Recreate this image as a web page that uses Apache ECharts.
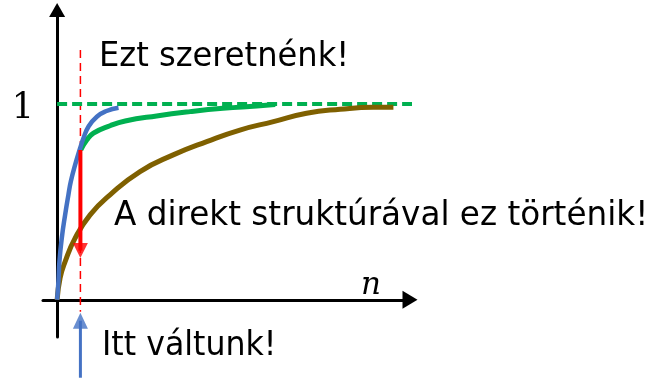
<!DOCTYPE html>
<html>
<head>
<meta charset="utf-8">
<script src="https://cdn.jsdelivr.net/npm/echarts@6/dist/echarts.min.js"></script>
<style>
  html, body { margin: 0; padding: 0; background: #fff; }
  #chart { width: 654px; height: 382px; }
</style>
</head>
<body>
<div id="chart"></div>
<script>
// Convergence of three strategies as n grows; value normalised to 1.
const yTickLabels = [1];

// fast start (blue)
const blueN = [0, 0.037, 0.065, 0.133, 0.227, 0.32, 0.388, 0.51, 0.652, 0.745, 0.887, 1.125, 1.40, 1.74];
const blueY = [0, 0.093, 0.195, 0.316, 0.434, 0.536, 0.604, 0.689, 0.774, 0.825, 0.884, 0.935, 0.964, 0.981];

// desired continuation after the switch (green)
const greenN = [0.67, 0.84, 1.03, 1.50, 1.93, 2.82, 3.77, 4.70, 5.66, 6.18];
const greenY = [0.765, 0.816, 0.851, 0.889, 0.913, 0.939, 0.961, 0.978, 0.990, 0.997];

// direct structure (brown)
const brownN = [0, 0.085, 0.227, 0.51, 0.935, 1.50, 2.35, 3.29, 4.24, 5.18, 6.13, 7.07, 8.02, 8.96, 9.53];
const brownY = [0, 0.112, 0.195, 0.315, 0.434, 0.536, 0.655, 0.740, 0.808, 0.867, 0.910, 0.953, 0.973, 0.983, 0.983];

// limit line, switch point and the two arrows (value ranges along y)
const targetLevel = 1;
const targetSpan = [0, 10.2];
const switchN = 0.66;
const switchGuide = [1.276, -0.061];
const dropArrow = [0.765, 0.213];
const switchArrow = [-0.398, -0.066];

const X_RANGE = [-0.4, 10];
const Y_RANGE = [-0.19, 1.48];
const GRID = { left: 43, right: 244, top: 10, bottom: 45, containLabel: false, outerBoundsMode: 'none' };
const H = 382;
const pxPerY = (H - GRID.top - GRID.bottom) / (Y_RANGE[1] - Y_RANGE[0]);

const zip = (a, b) => a.map((v, i) => [v, b[i]]);
const AXIS_STYLE = { color: '#000', width: 3 };
const TEXT_FONT = '34px "DejaVu Sans"';

function curve(n, y, color, width) {
  return {
    type: 'line', data: zip(n, y), smooth: true, showSymbol: false,
    clip: false, silent: true, z: 3, lineStyle: { color, width }
  };
}

function arrowSeries(range, color, width, size, dir) {
  // shaft stops at the middle of the head, head tip lands on the end value
  const tip = range[1];
  const half = size[1] / 2 / pxPerY;
  const shaftEnd = dir === 'down' ? tip + half : tip - half;
  return [
    {
      type: 'line', data: [[switchN, range[0]], [switchN, shaftEnd]],
      showSymbol: false, clip: false, silent: true, z: 4,
      lineStyle: { color, width }
    },
    {
      type: 'scatter', data: [[switchN, tip]], clip: false, silent: true, z: 5,
      symbol: 'triangle', symbolSize: size,
      symbolRotate: dir === 'down' ? 180 : 0,
      symbolOffset: [0, dir === 'down' ? -size[1] / 2 : size[1] / 2],
      itemStyle: { color }
    }
  ];
}

function label(text, x, y, scaleX, font) {
  return {
    type: 'text', x, y, scaleX: scaleX || 1,
    style: {
      text, font: font || TEXT_FONT, fill: '#000',
      align: 'left', verticalAlign: 'middle', textAlign: 'left', textVerticalAlign: 'middle'
    }
  };
}

const chart = echarts.init(document.getElementById('chart'));
chart.setOption({
  animation: false,
  backgroundColor: '#fff',
  grid: GRID,
  xAxis: {
    type: 'value', min: X_RANGE[0], max: X_RANGE[1],
    axisLine: { onZero: true, symbol: ['none', 'triangle'], symbolSize: [18, 15], lineStyle: AXIS_STYLE },
    axisTick: { show: false }, axisLabel: { show: false }, splitLine: { show: false }
  },
  yAxis: {
    type: 'value', min: Y_RANGE[0], max: Y_RANGE[1],
    axisLine: { onZero: true, symbol: ['none', 'triangle'], symbolSize: [16, 14], lineStyle: AXIS_STYLE },
    axisTick: { show: false },
    axisLabel: {
      customValues: yTickLabels, margin: 9, color: '#000',
      fontFamily: 'DejaVu Serif', fontSize: 35,
      verticalAlign: 'top', lineHeight: 10
    },
    splitLine: { show: false }
  },
  series: [
    {
      type: 'line', data: [[switchN, switchGuide[0]], [switchN, switchGuide[1]]],
      showSymbol: false, clip: false, silent: true, z: 1,
      lineStyle: { color: '#FF0000', width: 1.5, type: [8, 5] }
    },
    {
      type: 'line', data: [[targetSpan[0], targetLevel], [targetSpan[1], targetLevel]],
      showSymbol: false, clip: false, silent: true, z: 2,
      lineStyle: { color: '#00B050', width: 4, type: [10, 5] }
    },
    curve(brownN, brownY, '#7F6000', 5),
    curve(greenN, greenY, '#00B050', 5),
    curve(blueN, blueY, '#4472C4', 4.5),
    ...arrowSeries(dropArrow, '#FF0000', 4, [15, 15], 'down'),
    ...arrowSeries(switchArrow, '#4472C4', 3, [15, 16], 'up')
  ],
  graphic: [
    label('Ezt szeretnénk!', 99, 57.5, 0.945),
    label('A direkt struktúrával ez történik!', 114, 216.5, 0.96),
    label('Itt váltunk!', 102, 346.5, 0.93),
    label('n', 361, 286, 1, 'italic 31px "DejaVu Serif"')
  ]
});
</script>
</body>
</html>
